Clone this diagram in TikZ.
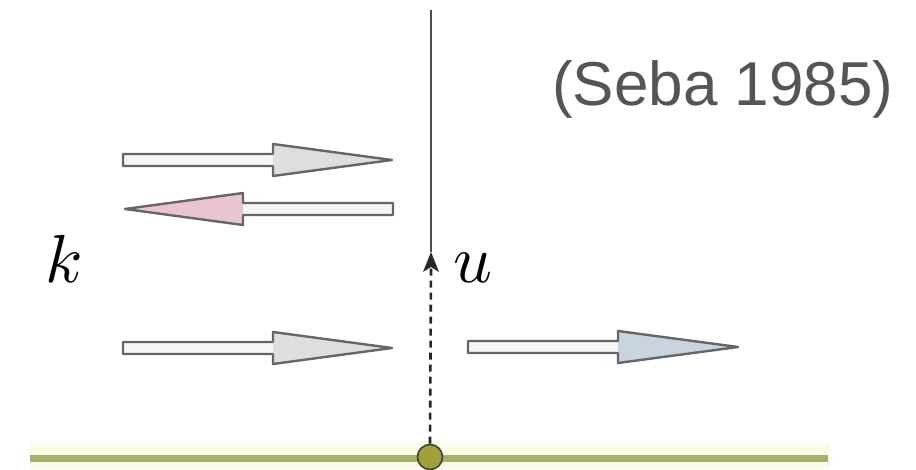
\documentclass[tikz,border=0pt]{standalone}
\usepackage{fontspec}
\newfontfamily\citefont{Liberation Sans}
\usetikzlibrary{arrows.meta}

\definecolor{outl}{HTML}{666666}
\definecolor{shaftfill}{HTML}{F6F6F6}
\definecolor{headgray}{HTML}{DEDEDE}
\definecolor{headpink}{HTML}{E9C6CF}
\definecolor{headblue}{HTML}{C9D4DF}
\definecolor{groundcol}{HTML}{A9AD6E}
\definecolor{glowcol}{HTML}{FBFBE4}
\definecolor{pivotcol}{HTML}{A2A038}
\definecolor{citecol}{HTML}{555555}

\tikzset{
  hollow/.style={draw=outl, line width=2.4pt, line join=round},
  wave/.style={font=\fontsize{10}{10}\selectfont, scale=6.8, inner sep=0pt, anchor=base west},
}

% \wavearrow{tail x}{head base x}{tip x}{y}{head colour}
\newcommand\wavearrow[5]{%
  \fill[shaftfill] (#1,#4-6) rectangle (#2,#4+6);
  \fill[#5] (#2,#4-16) -- (#3,#4) -- (#2,#4+16) -- cycle;
  \draw[hollow] (#1,#4-6) -- (#2,#4-6) -- (#2,#4-16) -- (#3,#4)
     -- (#2,#4+16) -- (#2,#4+6) -- (#1,#4+6) -- cycle;
}

\begin{document}
\begin{tikzpicture}[x=1pt,y=-1pt]
\useasboundingbox (0,0) rectangle (916,470);

% ground line with a soft glow
\draw[glowcol!60!white, line width=30pt] (30,457) -- (830,457);
\draw[glowcol, line width=20pt] (30,457) -- (830,457);
\draw[groundcol, line width=7pt] (30,458) -- (828,458);

% incoming, reflected and transmitted waves
\wavearrow{123}{273}{392}{160}{headgray}
\wavearrow{393}{243}{125}{209}{headpink}
\wavearrow{123}{273}{392}{348}{headgray}
\wavearrow{468}{618}{738}{347}{headblue}

% vertical axis and the displacement u
\coordinate (top) at (431,10);
\coordinate (tipu) at (431,252);
\coordinate (tipbase) at (431,268);
\node[circle, draw=black!75, line width=1.6pt, fill=pivotcol,
      minimum size=25pt, inner sep=0pt] (pivot) at (430,457) {};
\draw[black!70, line width=1.6pt] (top) -- (tipu);
\draw[black!85, line width=2.6pt, dash pattern=on 7pt off 5pt]
      (pivot.north) -- (tipbase);
% arrowhead of u
\fill[black!85] (tipu) -- ++(-8,20) -- ++(8,-5) -- ++(8,5) -- cycle;

% labels
\node[wave] (klabel) at (44,283) {$k$};
\node[wave] (ulabel) at (452,283) {$u$};
\node[font=\citefont\fontsize{62}{62}\selectfont, text=citecol,
      inner sep=0pt, anchor=base west] (cite) at (552,106) {(Seba 1985)};
\end{tikzpicture}
\end{document}
